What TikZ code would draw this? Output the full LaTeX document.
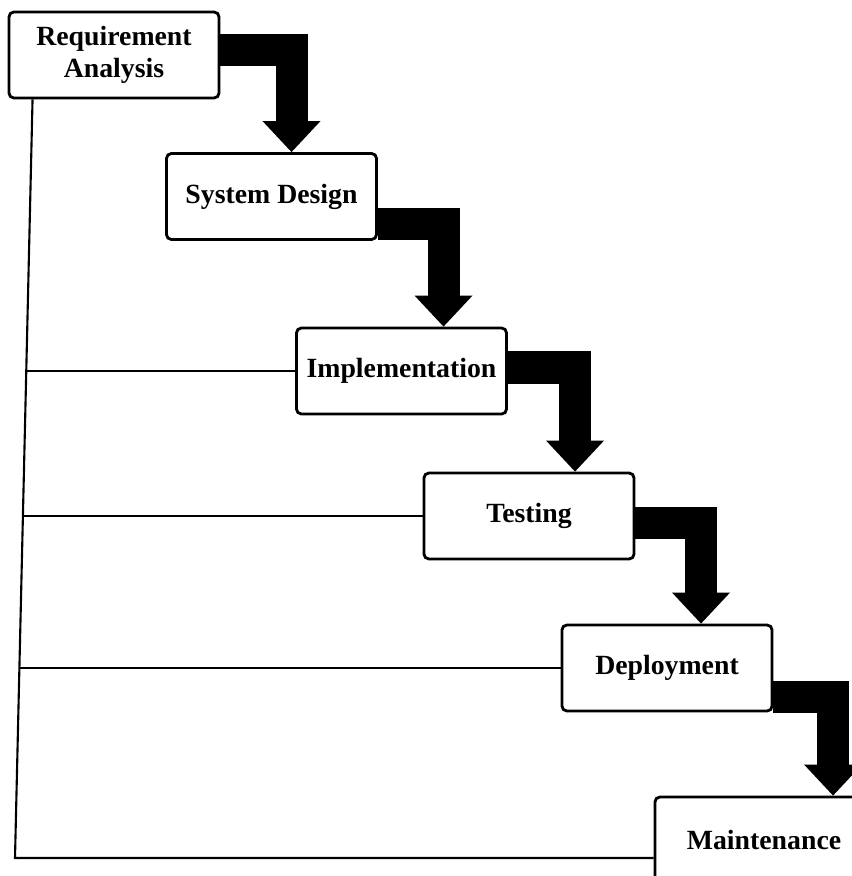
\documentclass[tikz,border=0pt]{standalone}
\usepackage{fontspec}
\setmainfont{Liberation Serif}
\usetikzlibrary{arrows.meta}

\tikzset{
    phase/.style={draw, line width=0.8pt, rounded corners=0.05cm,
        minimum width=2.1cm, minimum height=0.86cm, inner sep=0pt,
        align=center, font=\fontsize{7.9}{9.3}\selectfont\bfseries},
    flow/.style={line width=0.32cm, line join=miter,
        -{Triangle[length=0.31cm,width=0.58cm,line width=0pt]}},
    stepdown/.style={to path={-| (\tikztotarget)}},
    feed/.style={line width=0.6pt}
}

\begin{document}
\begin{tikzpicture}[x=0.01cm,y=-0.01cm]
    \useasboundingbox (0,0) rectangle (852,876);
    \clip (0,0) rectangle (852,876);
    \node [phase] (0) at (114,55) {Requirement\\Analysis};
    \node [phase] (1) at (271.5,196.5) {System Design};
    \node [phase] (2) at (401.5,371) {Implementation};
    \node [phase] (3) at (529,516) {Testing};
    \node [phase] (4) at (667,668) {Deployment};
    \node [phase,minimum width=2.18cm] (5) at (764,840) {Maintenance};
    \path[flow]
        ([yshift=0.05cm]0.east) edge [stepdown] ([xshift=0.2cm]1.north)
        ([yshift=-0.275cm]1.east) edge [stepdown] ([xshift=0.42cm]2.north)
        ([yshift=0.035cm]2.east) edge [stepdown] ([xshift=0.46cm]3.north)
        ([yshift=-0.07cm]3.east) edge [stepdown] ([xshift=0.34cm]4.north)
        ([yshift=-0.29cm]4.east) edge [stepdown] ([xshift=0.69cm]5.north);
    % feedback lines on the left
    \coordinate (corner) at (15,858);
    \draw[feed] ([xshift=0.25cm]0.south west) -- (corner) -- (corner -| 5.west);
    \foreach \n/\x in {2/26.5,3/23,4/19.5}
        \draw[feed] (\x,0 |- \n.west) -- (\n.west);
\end{tikzpicture}
\end{document}
